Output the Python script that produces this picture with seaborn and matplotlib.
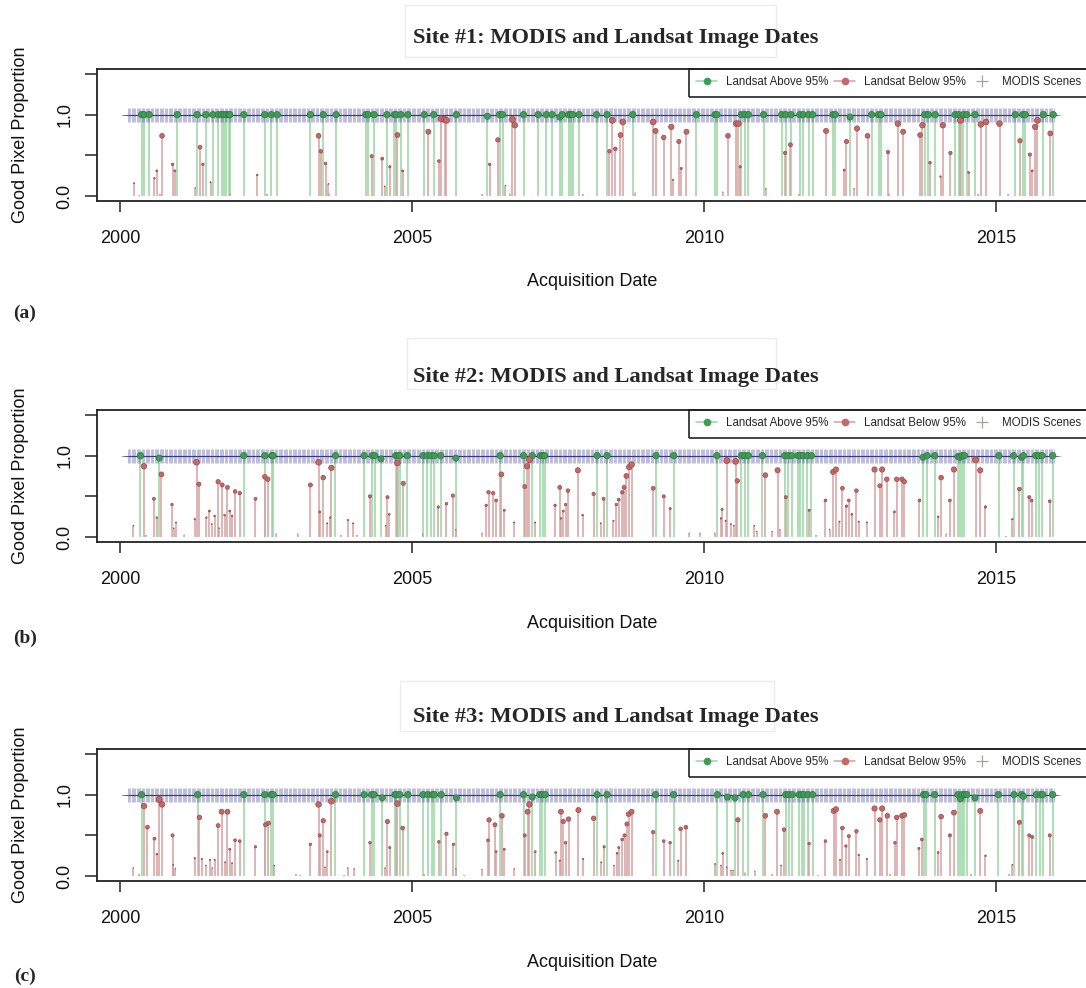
import numpy as np
import pandas as pd
import matplotlib
matplotlib.use("Agg")
import matplotlib.pyplot as plt
import seaborn as sns
from matplotlib.lines import Line2D
from matplotlib.patches import Rectangle

# ---------------- data (decimal years, good-pixel proportion) ----------------
site_titles = ["Site #1: MODIS and Landsat Image Dates",
               "Site #2: MODIS and Landsat Image Dates",
               "Site #3: MODIS and Landsat Image Dates"]
panel_letters = ["(a)", "(b)", "(c)"]
x_ticks = [2000, 2005, 2010, 2015]
y_ticks = [0.0, 0.5, 1.0, 1.5]
y_tick_labels = ["0.0", "", "1.0", ""]
legend_labels = ["Landsat Above 95%", "Landsat Below 95%", "MODIS Scenes"]

# MODIS 8-day scenes
modis_start = "2000-02-18"
modis_end = "2015-12-31"
modis_interval_days = 8

# ---- Site 1 ----
s1_above_dates = [2000.37, 2000.41, 2000.50, 2000.98, 2001.32, 2001.47, 2001.59, 2001.68, 2001.74,
                  2001.78, 2001.82, 2001.86, 2001.88, 2002.12, 2002.48, 2002.59, 2002.69, 2003.26,
                  2003.48, 2003.70, 2004.21, 2004.25, 2004.35, 2004.57, 2004.70, 2004.73, 2004.81,
                  2004.93, 2005.21, 2005.37, 2005.76, 2006.29, 2006.50, 2006.55, 2006.91, 2007.16,
                  2007.30, 2007.40, 2007.53, 2007.57, 2007.68, 2007.72, 2007.75, 2007.86,
                  2008.16, 2008.34, 2008.78, 2009.87, 2010.19, 2010.22, 2010.64, 2010.70, 2010.76,
                  2011.02, 2011.33, 2011.40, 2011.49, 2011.64, 2011.70, 2011.79, 2011.86, 2012.21,
                  2012.25, 2012.50, 2012.87, 2012.99, 2013.03, 2013.78, 2013.84, 2013.96, 2014.30,
                  2014.36, 2014.40, 2014.44, 2014.50, 2014.64, 2015.33, 2015.46, 2015.50, 2015.81,
                  2015.98]
s1_above_vals = [1.0, 1.0, 1.0, 1.0, 1.0, 1.0, 1.0, 1.0, 1.0,
                 1.0, 1.0, 1.0, 1.0, 1.0, 1.0, 1.0, 1.0, 1.0,
                 1.0, 1.0, 1.0, 1.0, 1.0, 1.0, 1.0, 1.0, 1.0,
                 1.0, 1.0, 1.0, 1.0, 0.98, 1.0, 1.0, 1.0, 1.0,
                 1.0, 1.0, 0.97, 1.0, 1.0, 1.0, 1.0, 1.0,
                 1.0, 1.0, 1.0, 1.0, 1.0, 1.0, 1.0, 1.0, 1.0,
                 1.0, 1.0, 1.0, 1.0, 1.0, 1.0, 1.0, 1.0, 1.0,
                 1.0, 0.97, 1.0, 1.0, 1.0, 1.0, 1.0, 1.0, 1.0,
                 1.0, 0.98, 1.0, 1.0, 1.0, 1.0, 1.0, 1.0, 1.0,
                 1.0]
s1_below_dates = [2000.24, 2000.59, 2000.63, 2000.72, 2000.90, 2000.94, 2001.29, 2001.37, 2001.42,
                  2001.55, 2002.35, 2003.40, 2003.44, 2003.52, 2003.57, 2004.31, 2004.49, 2004.53,
                  2004.62, 2004.75, 2004.84, 2005.28, 2005.46, 2005.50, 2005.56, 2005.59, 2006.33,
                  2006.47, 2006.60, 2006.72, 2006.76,
                  2008.38, 2008.43, 2008.48, 2008.57, 2008.61, 2009.13, 2009.17, 2009.31, 2009.44,
                  2009.47, 2009.57, 2009.61, 2009.70, 2010.41, 2010.55, 2010.59, 2010.62, 2011.39,
                  2011.48, 2012.09, 2012.40, 2012.44, 2012.62, 2012.80, 2013.15, 2013.32, 2013.41,
                  2013.70, 2013.74, 2013.87, 2014.05, 2014.09, 2014.22, 2014.39, 2014.53, 2014.74,
                  2014.83, 2015.06, 2015.41, 2015.58, 2015.62, 2015.67, 2015.71, 2015.93,
                  2000.33, 2000.68, 2001.89, 2002.52, 2003.58, 2006.20, 2006.67, 2007.92,
                  2008.82, 2010.32, 2011.06, 2011.62, 2012.57, 2013.17, 2014.70, 2015.21]
s1_below_vals = [0.16, 0.22, 0.31, 0.74, 0.39, 0.31, 0.10, 0.60, 0.39,
                 0.17, 0.26, 0.74, 0.55, 0.40, 0.15, 0.49, 0.46, 0.12,
                 0.36, 0.75, 0.31, 0.79, 0.43, 0.95, 0.94, 0.93, 0.39,
                 0.69, 0.13, 0.94, 0.87,
                 0.55, 0.93, 0.58, 0.75, 0.91, 0.91, 0.80, 0.72, 0.85,
                 0.20, 0.67, 0.34, 0.79, 0.74, 0.89, 0.89, 0.36, 0.53,
                 0.63, 0.80, 0.32, 0.67, 0.83, 0.74, 0.54, 0.89, 0.79,
                 0.75, 0.87, 0.41, 0.24, 0.87, 0.53, 0.93, 0.29, 0.88,
                 0.91, 0.89, 0.68, 0.51, 0.31, 0.85, 0.93, 0.77,
                 0.01, 0.02, 0.02, 0.02, 0.03, 0.02, 0.03, 0.02,
                 0.04, 0.05, 0.09, 0.02, 0.09, 0.03, 0.02, 0.02]

# ---- Site 2 ----
s2_above_dates = [2000.35, 2000.67, 2002.12, 2002.48, 2002.60, 2002.62, 2003.69, 2004.18, 2004.32,
                  2004.36, 2004.47, 2004.72, 2004.76, 2004.79, 2004.92, 2005.19, 2005.26, 2005.32,
                  2005.38, 2005.49, 2005.75, 2006.51, 2006.91, 2007.06, 2007.20, 2007.24, 2007.27,
                  2008.17, 2008.34, 2009.18, 2009.48, 2010.22, 2010.64, 2010.70, 2010.76, 2011.00,
                  2011.38, 2011.44, 2011.50, 2011.61, 2011.65, 2011.70, 2011.77, 2011.84, 2013.75,
                  2013.82, 2013.95, 2014.35, 2014.38, 2014.42, 2014.46, 2015.05, 2015.30, 2015.44,
                  2015.47, 2015.68, 2015.73, 2015.79, 2015.97]
s2_above_vals = [1.0, 0.97, 1.0, 1.0, 1.0, 1.0, 1.0, 1.0, 1.0,
                 1.0, 0.96, 1.0, 1.0, 1.0, 1.0, 1.0, 1.0, 1.0,
                 1.0, 1.0, 0.97, 1.0, 1.0, 1.0, 1.0, 1.0, 1.0,
                 1.0, 1.0, 1.0, 1.0, 1.0, 1.0, 1.0, 1.0, 1.0,
                 1.0, 1.0, 1.0, 1.0, 1.0, 1.0, 1.0, 1.0, 0.98,
                 1.0, 1.0, 0.99, 0.98, 1.0, 1.0, 1.0, 1.0, 0.98,
                 1.0, 1.0, 1.0, 1.0, 1.0]
s2_below_dates = [2000.23, 2000.41, 2000.58, 2000.63, 2000.71, 2000.89, 2000.92, 2000.96, 2001.31,
                  2001.28, 2001.35, 2001.48, 2001.53, 2001.57, 2001.62, 2001.68, 2001.70, 2001.75,
                  2001.79, 2001.84, 2001.88, 2001.92, 2001.97, 2002.05, 2002.32, 2002.48, 2002.53,
                  2003.26, 2003.40, 2003.42, 2003.48, 2003.55, 2003.62, 2003.60, 2003.90, 2003.99,
                  2004.28, 2004.58, 2004.61, 2004.55, 2004.75, 2004.85, 2005.45, 2005.59, 2005.70,
                  2005.75, 2006.20, 2006.27, 2006.31, 2006.39, 2006.44, 2006.53, 2006.58, 2006.75,
                  2006.93, 2006.97, 2007.01, 2007.11, 2007.45, 2007.53, 2007.55, 2007.59, 2007.63,
                  2007.67, 2007.84, 2007.92,
                  2008.11, 2008.23, 2008.28, 2008.45, 2008.50, 2008.54, 2008.60, 2008.63, 2008.67,
                  2008.72, 2008.76, 2009.13, 2009.31, 2009.42, 2009.75, 2009.93, 2010.18, 2010.29,
                  2010.31, 2010.39, 2010.37, 2010.46, 2010.51, 2010.54, 2010.57, 2010.86, 2010.90,
                  2011.05, 2011.26, 2011.40, 2011.30, 2011.17, 2011.80, 2012.08, 2012.15, 2012.21,
                  2012.26, 2012.32, 2012.37, 2012.44, 2012.48, 2012.53, 2012.61, 2012.65, 2012.79,
                  2012.92, 2013.01, 2013.05, 2013.13, 2013.26, 2013.30, 2013.39, 2013.43, 2013.69,
                  2014.01, 2014.06, 2014.21, 2014.28, 2014.65, 2014.73, 2014.82, 2015.28, 2015.40,
                  2015.57, 2015.61, 2015.92,
                  2000.44, 2001.10, 2002.67, 2003.04, 2003.78, 2004.06, 2005.18, 2011.92, 2014.15,
                  2015.17]
s2_below_vals = [0.14, 0.87, 0.47, 0.24, 0.77, 0.40, 0.11, 0.18, 0.92,
                 0.22, 0.65, 0.24, 0.32, 0.16, 0.26, 0.68, 0.11, 0.64,
                 0.27, 0.61, 0.32, 0.26, 0.56, 0.54, 0.47, 0.74, 0.71,
                 0.64, 0.92, 0.31, 0.73, 0.17, 0.85, 0.24, 0.21, 0.17,
                 0.50, 0.49, 0.28, 0.14, 0.91, 0.66, 0.37, 0.41, 0.51,
                 0.09, 0.05, 0.39, 0.55, 0.54, 0.45, 0.77, 0.33, 0.18,
                 0.62, 0.87, 0.95, 0.18, 0.39, 0.61, 0.23, 0.32, 0.40,
                 0.57, 0.82, 0.27,
                 0.53, 0.17, 0.47, 0.20, 0.40, 0.46, 0.55, 0.61, 0.75,
                 0.86, 0.89, 0.60, 0.50, 0.35, 0.05, 0.05, 0.05, 0.23,
                 0.34, 0.94, 0.20, 0.16, 0.14, 0.93, 0.69, 0.14, 0.07,
                 0.76, 0.82, 0.49, 0.09, 0.07, 0.33, 0.45, 0.09, 0.80,
                 0.83, 0.19, 0.60, 0.38, 0.45, 0.28, 0.57, 0.19, 0.18,
                 0.83, 0.63, 0.83, 0.71, 0.31, 0.71, 0.71, 0.68, 0.45,
                 0.25, 0.73, 0.45, 0.83, 0.95, 0.82, 0.37, 0.22, 0.59,
                 0.49, 0.45, 0.44,
                 0.02, 0.03, 0.04, 0.04, 0.02, 0.02, 0.04, 0.02, 0.04,
                 0.01]

# ---- Site 3 ----
s3_above_dates = [2000.37, 2001.33, 2002.12, 2002.48, 2002.59, 2002.62, 2003.69, 2004.18, 2004.31,
                  2004.35, 2004.49, 2004.71, 2004.73, 2004.79, 2004.93, 2005.19, 2005.27, 2005.35,
                  2005.38, 2005.50, 2005.76, 2006.51, 2006.91, 2007.06, 2007.19, 2007.23, 2007.28,
                  2008.17, 2008.34, 2009.17, 2009.48, 2010.23, 2010.40, 2010.53, 2010.67, 2010.76,
                  2011.01, 2011.40, 2011.45, 2011.51, 2011.63, 2011.67, 2011.71, 2011.78, 2011.86,
                  2013.76, 2013.80, 2013.95, 2014.35, 2014.39, 2014.42, 2014.46, 2014.50, 2014.64,
                  2015.04, 2015.31, 2015.44, 2015.47, 2015.69, 2015.76, 2015.80, 2015.97]
s3_above_vals = [1.0, 1.0, 1.0, 1.0, 1.0, 1.0, 1.0, 1.0, 1.0,
                 1.0, 0.96, 1.0, 1.0, 1.0, 1.0, 1.0, 1.0, 1.0,
                 1.0, 1.0, 0.96, 1.0, 1.0, 0.97, 1.0, 1.0, 1.0,
                 1.0, 1.0, 1.0, 1.0, 1.0, 0.97, 0.96, 1.0, 1.0,
                 1.0, 1.0, 1.0, 1.0, 1.0, 1.0, 1.0, 1.0, 1.0,
                 1.0, 1.0, 1.0, 1.0, 0.95, 1.0, 1.0, 1.0, 0.96,
                 1.0, 1.0, 1.0, 0.98, 1.0, 1.0, 1.0, 1.0]
s3_below_dates = [2000.23, 2000.41, 2000.47, 2000.59, 2000.63, 2000.67, 2000.72, 2000.90, 2000.91,
                  2000.95, 2001.28, 2001.36, 2001.40, 2001.47, 2001.54, 2001.58, 2001.62, 2001.68,
                  2001.74, 2001.80, 2001.84, 2001.88, 2001.92, 2001.97, 2002.05, 2002.32, 2002.49,
                  2002.54, 2002.64, 2003.26, 2003.40, 2003.42, 2003.48, 2003.51, 2003.55, 2003.62,
                  2003.90, 2004.01, 2004.28, 2004.54, 2004.58, 2004.62, 2004.75, 2004.84, 2005.46,
                  2005.59, 2005.71, 2005.75, 2006.20, 2006.30, 2006.32, 2006.42, 2006.44, 2006.54,
                  2006.58, 2006.75, 2006.93, 2006.98, 2007.01, 2007.11, 2007.46, 2007.53, 2007.55,
                  2007.59, 2007.63, 2007.68, 2007.85, 2007.93,
                  2008.11, 2008.24, 2008.29, 2008.46, 2008.51, 2008.54, 2008.60, 2008.64, 2008.68,
                  2008.71, 2008.76, 2009.13, 2009.31, 2009.42, 2009.56, 2009.60, 2009.69, 2010.19,
                  2010.29, 2010.32, 2010.39, 2010.46, 2010.50, 2010.58, 2010.87, 2011.05, 2011.25,
                  2011.32, 2011.37, 2011.80, 2012.08, 2012.22, 2012.26, 2012.33, 2012.37, 2012.43,
                  2012.48, 2012.61, 2012.65, 2012.79, 2012.92, 2013.01, 2013.05, 2013.14, 2013.27,
                  2013.30, 2013.39, 2013.43, 2013.68, 2013.73, 2014.01, 2014.06, 2014.21, 2014.28,
                  2014.73, 2014.82, 2015.28, 2015.40, 2015.57, 2015.62, 2015.92,
                  2000.33, 2003.01, 2003.08, 2003.84, 2005.21, 2005.89, 2010.70, 2011.16, 2011.95,
                  2013.18, 2014.57, 2015.23]
s3_below_vals = [0.10, 0.86, 0.60, 0.46, 0.27, 0.94, 0.88, 0.50, 0.14,
                 0.09, 0.22, 0.72, 0.21, 0.13, 0.20, 0.10, 0.20, 0.62,
                 0.79, 0.17, 0.79, 0.33, 0.16, 0.44, 0.43, 0.36, 0.63,
                 0.65, 0.13, 0.39, 0.88, 0.50, 0.68, 0.11, 0.30, 0.92,
                 0.10, 0.09, 0.41, 0.10, 0.67, 0.35, 0.89, 0.59, 0.42,
                 0.52, 0.39, 0.09, 0.08, 0.44, 0.69, 0.63, 0.30, 0.74,
                 0.33, 0.09, 0.50, 0.79, 0.88, 0.30, 0.29, 0.19, 0.79,
                 0.67, 0.41, 0.70, 0.81, 0.21,
                 0.71, 0.17, 0.36, 0.13, 0.28, 0.35, 0.45, 0.50, 0.64,
                 0.76, 0.79, 0.54, 0.43, 0.41, 0.19, 0.58, 0.60, 0.15,
                 0.13, 0.28, 0.11, 0.07, 0.07, 0.69, 0.06, 0.74, 0.79,
                 0.13, 0.57, 0.40, 0.43, 0.80, 0.82, 0.20, 0.59, 0.37,
                 0.49, 0.55, 0.26, 0.21, 0.83, 0.69, 0.83, 0.74, 0.41,
                 0.72, 0.74, 0.75, 0.34, 0.45, 0.29, 0.73, 0.50, 0.78,
                 0.80, 0.25, 0.14, 0.66, 0.50, 0.48, 0.50,
                 0.02, 0.02, 0.01, 0.01, 0.02, 0.01, 0.04, 0.02, 0.01,
                 0.02, 0.02, 0.02]

sites = [
    (s1_above_dates, s1_above_vals, s1_below_dates, s1_below_vals),
    (s2_above_dates, s2_above_vals, s2_below_dates, s2_below_vals),
    (s3_above_dates, s3_above_vals, s3_below_dates, s3_below_vals),
]

# ---------------- styling / layout ----------------
sns.set_theme(style="white")
plt.rcParams['font.family'] = ['Liberation Sans', 'DejaVu Sans']

W, H = 1086, 988
fig = plt.figure(figsize=(W / 100, H / 100), dpi=100)


def fx(px):
    return px / W


def fy(py):
    return 1 - py / H


GREEN_LINE = "#98d4a2"
GREEN_PT = "#3e9c55"
GREEN_EDGE = "#2e7a40"
RED_LINE = "#d6a0a0"
RED_PT = "#c46868"
RED_EDGE = "#9a4848"
MODIS_COL = "#34348a"

panel_tops = [69, 410, 749]
title_ys = [38, 377, 717]
title_boxes = [(405, 5, 776, 57), (407, 338, 776, 389), (400, 681, 774, 731)]
letter_ys = [313, 638, 976]

AX_LEFT, AX_RIGHT, AX_H = 97, 1092, 132
PX_PER_YEAR = 58.4
X2000_PX = 120
xlim = (2000 - (X2000_PX - AX_LEFT) / PX_PER_YEAR, 2000 + (AX_RIGHT - X2000_PX) / PX_PER_YEAR)

modis_dates = pd.date_range(modis_start, modis_end, freq=f"{modis_interval_days}D")
modis_x = (modis_dates.year + (modis_dates.dayofyear - 1) / 365.25).values
modis_y = np.ones(len(modis_x))

for i, (ad, av, bd, bv) in enumerate(sites):
    top = panel_tops[i]
    ax = fig.add_axes([fx(AX_LEFT), fy(top + AX_H), (AX_RIGHT - AX_LEFT) / W, AX_H / H])
    ax.set_xlim(*xlim)
    ax.set_ylim(-0.06, 1.56)

    ad = np.array(ad); av = np.array(av); bd = np.array(bd); bv = np.array(bv)

    # MODIS scenes
    sns.scatterplot(x=modis_x, y=modis_y, marker="+", s=95, color=MODIS_COL, alpha=0.3,
                    linewidth=0.75, ax=ax, legend=False, zorder=2)
    # stems
    ax.vlines(ad, 0, av, colors=GREEN_LINE, linewidth=1.1, zorder=1)
    ax.vlines(bd, 0, bv, colors=RED_LINE, linewidth=1.1, zorder=1)
    # points, size proportional to value
    sns.scatterplot(x=ad, y=av, s=(4.6 * av) ** 2, color=GREEN_PT, edgecolor=GREEN_EDGE,
                    linewidth=0.5, ax=ax, legend=False, zorder=3)
    sns.scatterplot(x=bd, y=bv, s=(4.6 * bv) ** 2, color=RED_PT, edgecolor=RED_EDGE,
                    linewidth=0.5, ax=ax, legend=False, zorder=3)

    # axes styling
    for sp in ax.spines.values():
        sp.set_color("#222222")
        sp.set_linewidth(1.3)
        sp.set_visible(True)
    ax.set_xticks(x_ticks)
    ax.set_xticklabels([str(t) for t in x_ticks], fontsize=13)
    ax.set_yticks(y_ticks)
    ax.set_yticklabels(y_tick_labels, fontsize=13, rotation=90, va="center")
    ax.tick_params(axis="x", bottom=True, direction="out", length=8, width=1.1,
                   color="#222222", pad=13, labelcolor="#111111")
    ax.tick_params(axis="y", left=True, direction="out", length=9, width=1.1,
                   color="#222222", pad=8, labelcolor="#111111")
    ax.set_xlabel("")
    ax.set_ylabel("")

    # legend (frame drawn separately so it runs off the right edge like the original)
    handles = [
        Line2D([0], [0], color=GREEN_LINE, lw=1.1, marker="o", markersize=4.5,
               markerfacecolor=GREEN_PT, markeredgecolor=GREEN_PT),
        Line2D([0], [0], color=RED_LINE, lw=1.1, marker="o", markersize=4.5,
               markerfacecolor=RED_PT, markeredgecolor=RED_PT),
        Line2D([0], [0], color="#9aaa9a", lw=0, marker="+", markersize=8, markeredgewidth=0.9),
    ]
    ax.legend(handles, legend_labels, loc="upper left", bbox_to_anchor=(fx(690), fy(top + 1)),
              bbox_transform=fig.transFigure, ncol=3, fontsize=8.3, frameon=False,
              borderaxespad=0, borderpad=0.55, handlelength=1.8, handletextpad=0.8,
              columnspacing=0.5)
    fig.patches.append(Rectangle((fx(689), fy(top + 28)), (1100 - 689) / W, 28 / H,
                                 transform=fig.transFigure, fill=False,
                                 edgecolor="#222222", linewidth=1.2, zorder=5))

    # title with faint box
    x0, y0, x1, y1 = title_boxes[i]
    fig.patches.append(Rectangle((fx(x0), fy(y1)), (x1 - x0) / W, (y1 - y0) / H,
                                 transform=fig.transFigure, fill=False,
                                 edgecolor="#ececec", linewidth=1.0))
    fig.text(fx(616), fy(title_ys[i]), site_titles[i], ha="center", va="center",
             family=["Liberation Serif", "DejaVu Serif"], weight="bold", fontsize=16.2)

    # axis labels
    fig.text(fx(21), fy(top + 66), "Good Pixel Proportion", rotation=90, ha="center",
             va="center", fontsize=13, color="#111111")
    fig.text(fx(592), fy(top + 213), "Acquisition Date", ha="center", va="center",
             fontsize=13, color="#111111")
    fig.text(fx(25), fy(letter_ys[i]), panel_letters[i], ha="center", va="center",
             family=["Liberation Serif", "DejaVu Serif"], weight="bold", fontsize=14)

fig.savefig("out.png", dpi=100)
